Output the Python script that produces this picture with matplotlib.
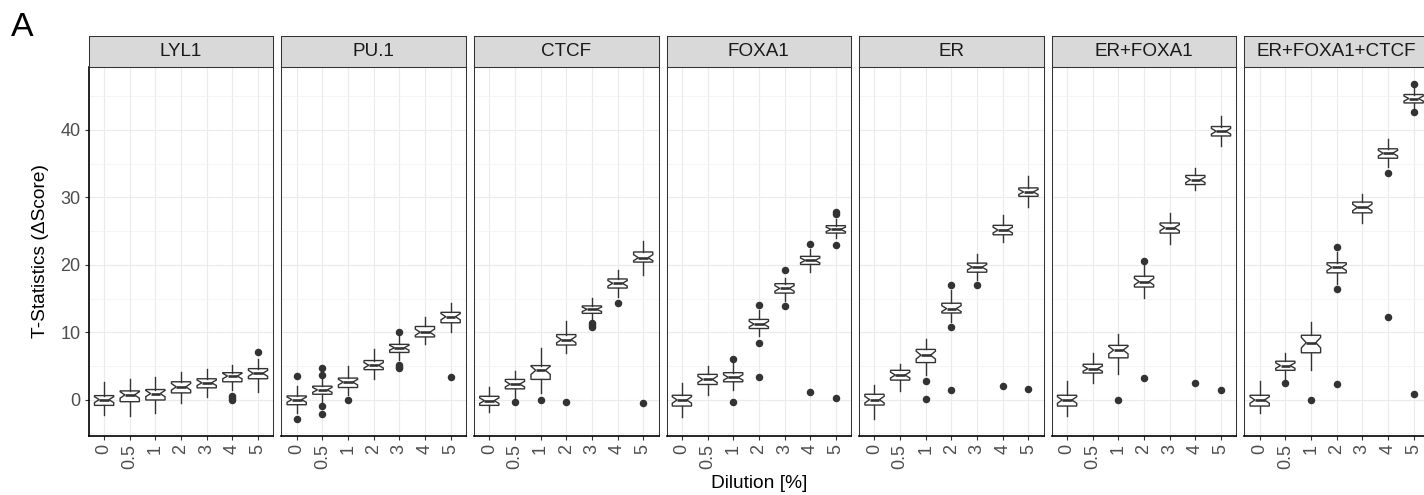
import matplotlib.pyplot as plt
import numpy as np

plt.rcParams['font.family'] = ['Liberation Sans', 'DejaVu Sans']

# facets and x categories
panels = ['LYL1', 'PU.1', 'CTCF', 'FOXA1', 'ER', 'ER+FOXA1', 'ER+FOXA1+CTCF']
dilutions = ['0', '0.5', '1', '2', '3', '4', '5']

# box stats, one row per facet
med = [[0.0, 0.7, 0.9, 1.9, 2.5, 3.5, 3.9],
       [0.0, 1.45, 2.6, 5.1, 7.7, 10.0, 12.3],
       [-0.15, 2.3, 4.35, 8.9, 13.4, 17.25, 21.05],
       [-0.05, 3.0, 3.3, 11.2, 16.5, 20.65, 25.25],
       [0.0, 3.65, 6.6, 13.5, 19.65, 25.15, 30.8],
       [-0.05, 4.6, 7.35, 17.5, 25.5, 32.6, 39.8],
       [-0.05, 5.05, 8.45, 19.6, 28.5, 36.55, 44.65]]
q1 = [[-0.85, -0.3, -0.05, 1.0, 1.75, 2.65, 3.1],
      [-0.75, 0.8, 1.8, 4.45, 7.0, 9.3, 11.4],
      [-0.85, 1.6, 3.0, 8.1, 12.8, 16.55, 20.4],
      [-0.95, 2.25, 2.65, 10.55, 15.8, 20.05, 24.7],
      [-0.8, 2.9, 5.5, 12.85, 18.9, 24.45, 30.15],
      [-0.95, 3.95, 6.2, 16.7, 24.7, 31.9, 39.1],
      [-0.95, 4.35, 6.95, 18.8, 27.7, 35.8, 44.0]]
q3 = [[0.6, 1.3, 1.5, 2.65, 3.1, 4.0, 4.6],
      [0.55, 2.0, 3.2, 5.8, 8.2, 10.85, 12.95],
      [0.5, 3.0, 5.05, 9.65, 13.9, 17.9, 21.9],
      [0.65, 3.75, 4.0, 11.9, 17.2, 21.25, 25.8],
      [0.8, 4.35, 7.45, 14.3, 20.25, 25.85, 31.4],
      [0.65, 5.25, 8.05, 18.3, 26.2, 33.25, 40.5],
      [0.65, 5.7, 9.55, 20.3, 29.3, 37.2, 45.25]]
wlo = [[-2.25, -2.35, -1.95, -0.45, 0.35, 1.4, 1.15],
       [-2.05, -0.35, 0.65, 3.0, 5.85, 8.2, 10.1],
       [-1.8, -0.05, 1.05, 6.9, 11.8, 15.2, 18.5],
       [-2.55, 0.75, 1.4, 9.45, 14.7, 18.9, 23.9],
       [-2.9, 1.3, 3.65, 11.5, 17.7, 23.4, 28.55],
       [-2.35, 2.4, 3.8, 15.1, 23.1, 31.1, 37.65],
       [-1.95, 2.9, 4.35, 17.2, 26.25, 34.5, 43.1]]
whi = [[2.6, 3.0, 3.3, 4.05, 4.6, 5.2, 6.1],
       [2.0, 3.1, 5.0, 7.5, 9.55, 12.3, 14.4],
       [1.9, 4.25, 7.6, 11.6, 15.1, 19.2, 23.5],
       [2.4, 4.95, 5.45, 13.25, 18.0, 22.4, 26.85],
       [2.15, 5.35, 9.05, 16.2, 21.65, 27.45, 33.1],
       [2.75, 6.95, 9.8, 19.9, 27.7, 34.4, 42.0],
       [2.75, 6.85, 11.5, 21.9, 30.5, 38.6, 46.3]]
outliers = [[[], [], [], [], [], [0.55, 0.25, 0.0], [7.0]],
            [[3.5, -2.9], [4.7, 3.7, -0.9, -2.1], [0.0], [], [10.0, 5.2, 4.9, 4.7], [], [3.4]],
            [[], [-0.35], [-0.1], [-0.35], [11.4, 10.75, 11.0], [14.3], [-0.45]],
            [[], [], [6.1, -0.3], [14.0, 8.4, 3.3], [19.3, 13.85], [23.1, 1.15], [27.8, 27.5, 23.0, 0.3]],
            [[], [], [2.75, 0.1], [17.05, 10.8, 1.45], [17.05], [2.05], [1.55]],
            [[], [], [-0.05], [20.5, 3.15], [], [2.4], [1.4]],
            [[], [2.4], [-0.05], [22.6, 16.4, 2.3], [], [33.65, 12.25], [46.85, 42.6, 0.9]]]
n_obs = 28  # guessed sample size, only used for the notch depth

W, H = 1424, 495
fig = plt.figure(figsize=(W/100, H/100), dpi=100)

left0, step, pw = 88.7, 192.6, 184.7  # pixel layout of the facets
ptop, pbot, stop = 67, 436, 36
dark = '#333333'

for i, name in enumerate(panels):
    x0 = left0 + i*step
    ax = fig.add_axes([x0/W, 1-pbot/H, pw/W, (pbot-ptop)/H])
    stats = []
    for j in range(len(dilutions)):
        half = 1.58*(q3[i][j]-q1[i][j])/np.sqrt(n_obs)
        stats.append(dict(med=med[i][j], q1=q1[i][j], q3=q3[i][j],
                          whislo=wlo[i][j], whishi=whi[i][j],
                          fliers=outliers[i][j],
                          cilo=med[i][j]-half, cihi=med[i][j]+half))
    ax.bxp(stats, positions=range(1, 8), widths=0.75, shownotches=True,
           showcaps=False, patch_artist=True,
           boxprops=dict(facecolor='white', edgecolor=dark, linewidth=1.0),
           whiskerprops=dict(color=dark, linewidth=1.0),
           medianprops=dict(color=dark, linewidth=1.9),
           flierprops=dict(marker='o', markerfacecolor=dark,
                           markeredgecolor=dark, markersize=4.4),
           zorder=3)
    ax.set_xlim(0.4, 7.6)
    ax.set_ylim(-5.39, 49.33)
    ax.set_xticks(range(1, 8))
    ax.set_xticklabels(dilutions, rotation=90, fontsize=13, color='#4D4D4D')
    ax.set_yticks([0, 10, 20, 30, 40])
    ax.set_yticks([-5, 5, 15, 25, 35, 45], minor=True)
    ax.set_axisbelow(True)
    ax.grid(which='major', color='#EBEBEB', linewidth=0.8)
    ax.grid(which='minor', axis='y', color='#F2F2F2', linewidth=0.5)
    ax.tick_params(which='major', length=3, width=0.8, color=dark, pad=3)
    ax.tick_params(which='minor', length=0)
    for s in ax.spines.values():
        s.set_color(dark)
        s.set_linewidth(0.75)
    ax.spines['bottom'].set_color('black')
    ax.spines['bottom'].set_linewidth(1.2)
    if i == 0:
        ax.spines['left'].set_color('black')
        ax.spines['left'].set_linewidth(1.2)
        ax.set_yticklabels(['0', '10', '20', '30', '40'], fontsize=13, color='#4D4D4D')
    else:
        ax.tick_params(axis='y', left=False, labelleft=False)

    # facet strip
    sx = fig.add_axes([x0/W, 1-ptop/H, pw/W, (ptop-stop)/H])
    sx.set_facecolor('#D9D9D9')
    sx.set_xticks([])
    sx.set_yticks([])
    for s in sx.spines.values():
        s.set_color(dark)
        s.set_linewidth(0.75)
    sx.text(0.5, 0.5, name, ha='center', va='center', fontsize=13.6,
            color='#1A1A1A', transform=sx.transAxes)

fig.text(41/W, 1-251.5/H, 'T-Statistics (\u0394Score)', rotation=90,
         ha='center', va='center', fontsize=13.8)
fig.text(759/W, 1-488.5/H, 'Dilution [%]', ha='center', va='baseline', fontsize=13.8)
fig.text(11/W, 1-36/H, 'A', ha='left', va='baseline', fontsize=24.4)

plt.savefig('out.png', dpi=100)
